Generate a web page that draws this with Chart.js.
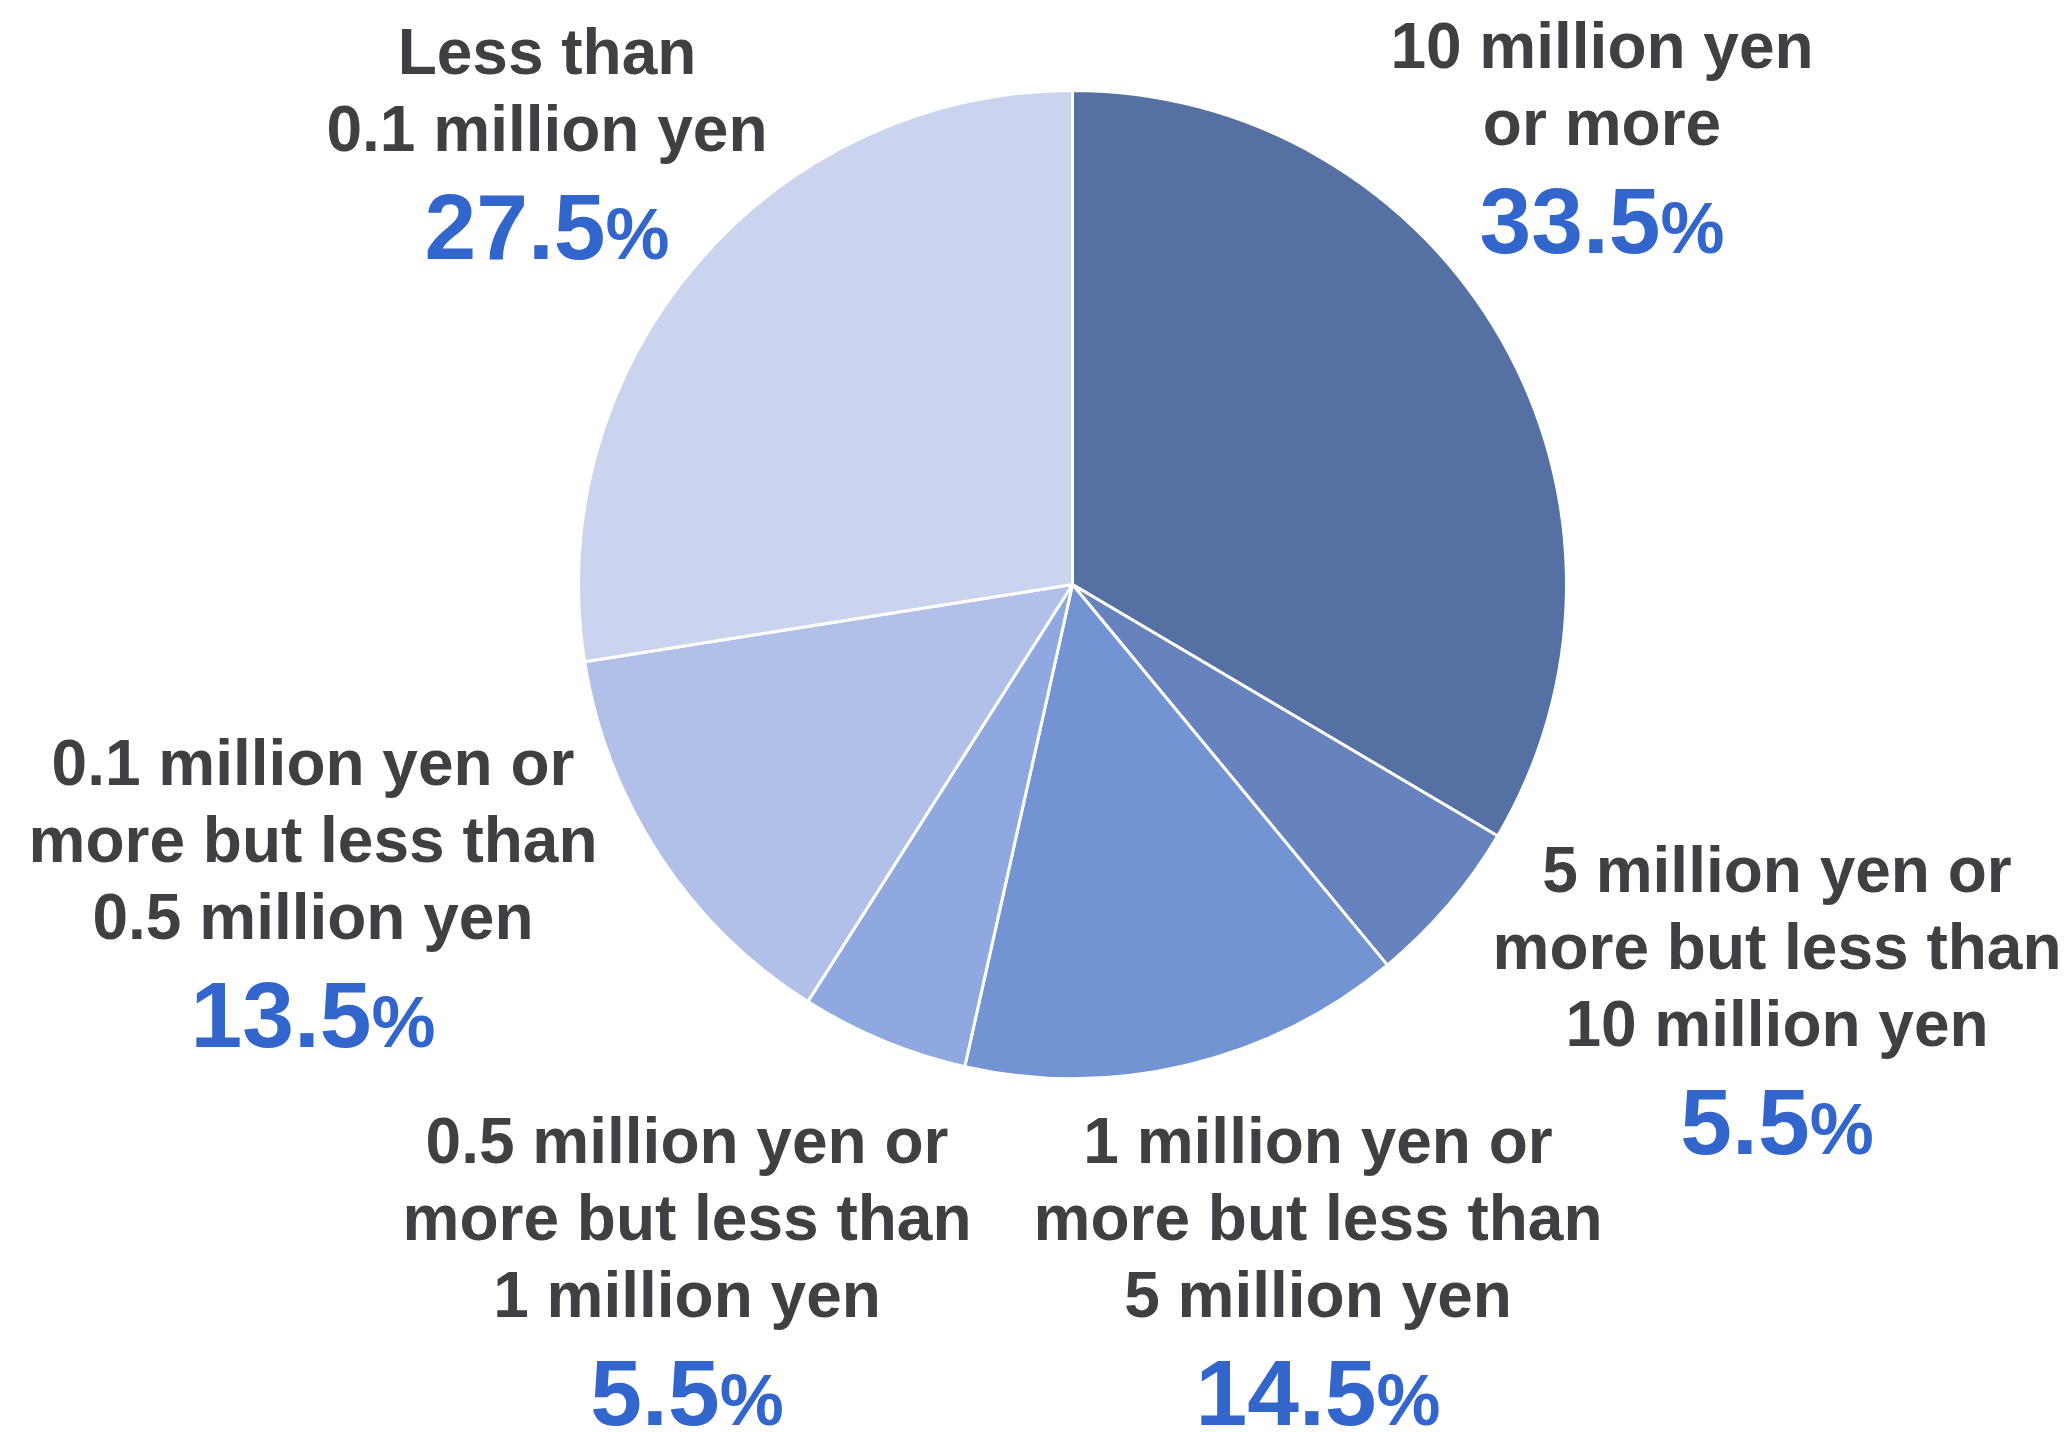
<!DOCTYPE html>
<html>
<head>
<meta charset="utf-8">
<title>Amount held</title>
<script src="https://cdn.jsdelivr.net/npm/chart.js@4/dist/chart.umd.min.js"></script>
<style>
  html, body { margin: 0; padding: 0; background: #fff; }
  #wrap { width: 2069px; height: 1432px; position: relative; }
</style>
</head>
<body>
<div id="wrap"><canvas id="grafico"></canvas></div>
<script>
// slices, clockwise from 12 o'clock
const categorias = [
  ['10 million yen', 'or more'],
  ['5 million yen or', 'more but less than', '10 million yen'],
  ['1 million yen or', 'more but less than', '5 million yen'],
  ['0.5 million yen or', 'more but less than', '1 million yen'],
  ['0.1 million yen or', 'more but less than', '0.5 million yen'],
  ['Less than', '0.1 million yen']
];
const porcentajes = [33.5, 5.5, 14.5, 5.5, 13.5, 27.5];
const colores = ['#5570a3', '#6783bd', '#7294d2', '#8fa9e0', '#b0c0e8', '#cad4ee'];

// where each text block sits: centre x and baseline of its first line
const posEtiquetas = [
  { x: 1602, y: 68 },
  { x: 1777, y: 892 },
  { x: 1318, y: 1163 },
  { x: 687, y: 1163 },
  { x: 313, y: 785 },
  { x: 547, y: 74 }
];

const FUENTE = '"Liberation Sans", Arial, sans-serif';
const GRIS = '#3f3f44';
const AZUL = '#3366cc';

const etiquetasPlugin = {
  id: 'etiquetas',
  afterDraw(chart) {
    const ctx = chart.ctx;
    const valores = chart.data.datasets[0].data;
    ctx.save();
    ctx.textBaseline = 'alphabetic';
    categorias.forEach((lineas, i) => {
      const p = posEtiquetas[i];
      ctx.fillStyle = GRIS;
      ctx.textAlign = 'center';
      ctx.font = 'bold 64px ' + FUENTE;
      lineas.forEach((txt, j) => ctx.fillText(txt, p.x, p.y + j * 77));

      // big number plus smaller percent sign, centred as one group
      const num = valores[i].toFixed(1);
      const yPct = p.y + (lineas.length - 1) * 77 + 108;
      ctx.font = 'bold 93px ' + FUENTE;
      const wNum = ctx.measureText(num).width;
      ctx.font = 'bold 72px ' + FUENTE;
      const wPct = ctx.measureText('%').width;
      const x0 = p.x - (wNum + wPct) / 2;
      ctx.textAlign = 'left';
      ctx.fillStyle = AZUL;
      ctx.font = 'bold 93px ' + FUENTE;
      ctx.fillText(num, x0, yPct);
      ctx.font = 'bold 72px ' + FUENTE;
      ctx.fillText('%', x0 + wNum, yPct);
    });
    ctx.restore();
  }
};

new Chart(document.getElementById('grafico').getContext('2d'), {
  type: 'pie',
  data: {
    labels: categorias.map(l => l.join(' ')),
    datasets: [{
      data: porcentajes,
      backgroundColor: colores,
      borderColor: '#ffffff',
      borderWidth: 3
    }]
  },
  options: {
    responsive: true,
    maintainAspectRatio: false,
    devicePixelRatio: 1,
    animation: false,
    layout: { padding: { top: 89, bottom: 352, left: 577, right: 501 } },
    plugins: {
      legend: { display: false },
      tooltip: { enabled: false }
    }
  },
  plugins: [etiquetasPlugin]
});
</script>
</body>
</html>
